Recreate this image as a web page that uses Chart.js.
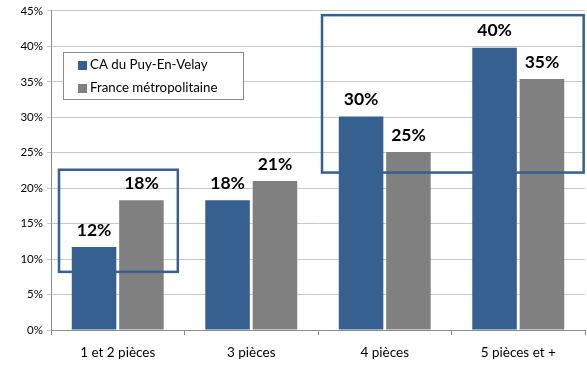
<!DOCTYPE html>
<html>
<head>
<meta charset="utf-8">
<script src="https://cdn.jsdelivr.net/npm/chart.js@4/dist/chart.umd.min.js"></script>
<style>
  html, body { margin: 0; padding: 0; background: #fff; }
  #wrap { width: 587px; height: 365px; }
</style>
</head>
<body>
<div id="wrap"><canvas id="barres" width="587" height="365"></canvas></div>
<script>
// Données
var categories = ["1 et 2 pièces", "3 pièces", "4 pièces", "5 pièces et +"];
var valeursPuy = [11.7, 18.3, 30.1, 39.8];
var valeursFrance = [18.3, 21.0, 25.1, 35.4];
var seriesNoms = ["CA du Puy-En-Velay", "France métropolitaine"];
var ticksY = [0, 5, 10, 15, 20, 25, 30, 35, 40, 45];

var bleu = "#36608F";
var gris = "#808080";

// Cadres de mise en évidence (index de catégorie et valeur en %)
var cadres = [
    { x1: -0.44, x2: 0.45, y1: 8.2, y2: 22.6 },
    { x1: 1.53, x2: 3.49, y1: 22.2, y2: 44.4 }
];

// Étiquettes de valeur au-dessus des barres
var pluginEtiquettes = {
    id: "etiquettes",
    afterDatasetsDraw: function (chart) {
        var ctx = chart.ctx;
        ctx.save();
        ctx.font = "bold 17.5px Lato";
        ctx.fillStyle = "#000";
        ctx.textAlign = "center";
        ctx.textBaseline = "middle";
        chart.data.datasets.forEach(function (ds, i) {
            chart.getDatasetMeta(i).data.forEach(function (bar, j) {
                ctx.fillText(Math.round(ds.data[j]) + "%", bar.x, bar.y - 17);
            });
        });
        ctx.restore();
    }
};

// Cadres bleus et légende dans la zone du graphique
var pluginCadres = {
    id: "cadres",
    afterDraw: function (chart) {
        var ctx = chart.ctx;
        var sx = chart.scales.x, sy = chart.scales.y;
        var pas = sx.getPixelForValue(1) - sx.getPixelForValue(0);
        ctx.save();
        ctx.strokeStyle = bleu;
        ctx.lineWidth = 2.5;
        cadres.forEach(function (c) {
            var x1 = sx.getPixelForValue(0) + c.x1 * pas;
            var x2 = sx.getPixelForValue(0) + c.x2 * pas;
            var y1 = sy.getPixelForValue(c.y2);
            var y2 = sy.getPixelForValue(c.y1);
            ctx.strokeRect(x1, y1, x2 - x1, y2 - y1);
        });

        // légende
        var lx = 63, ly = 52, lw = 180, lh = 47;
        ctx.fillStyle = "#fff";
        ctx.fillRect(lx, ly, lw, lh);
        ctx.strokeStyle = "#8c8c8c";
        ctx.lineWidth = 1;
        ctx.strokeRect(lx + 0.5, ly + 0.5, lw, lh);
        ctx.font = "13.3px Lato";
        ctx.textBaseline = "middle";
        ctx.textAlign = "left";
        chart.data.datasets.forEach(function (ds, i) {
            var cy = ly + 13 + i * 23;
            ctx.fillStyle = ds.backgroundColor;
            ctx.fillRect(lx + 15, cy - 4, 9, 9);
            ctx.fillStyle = "#000";
            ctx.fillText(ds.label, lx + 27, cy);
        });
        ctx.restore();
    }
};

var datos = {
    labels: categories,
    datasets: [{
        label: seriesNoms[0],
        backgroundColor: bleu,
        data: valeursPuy
    }, {
        label: seriesNoms[1],
        backgroundColor: gris,
        data: valeursFrance
    }]
};

var config = {
    type: "bar",
    data: datos,
    options: {
        responsive: false,
        animation: false,
        layout: { padding: { top: 10, right: 2, left: 0, bottom: 0 } },
        datasets: {
            bar: { categoryPercentage: 0.71, barPercentage: 0.94 }
        },
        plugins: {
            legend: { display: false },
            tooltip: { enabled: false }
        },
        scales: {
            x: {
                afterFit: function (s) { s.height = 35; },
                border: { color: "#8c8c8c", width: 1 },
                grid: { drawOnChartArea: false, drawTicks: true, tickLength: 5, color: "#8c8c8c", offset: true },
                ticks: { color: "#000", font: { family: "Lato", size: 13.5 }, padding: 10 }
            },
            y: {
                min: 0,
                max: 45,
                afterFit: function (s) { s.width = 51; },
                afterBuildTicks: function (s) {
                    s.ticks = ticksY.map(function (v) { return { value: v }; });
                },
                border: { color: "#8c8c8c", width: 1 },
                grid: { color: "#c8c8c8", drawTicks: true, tickLength: 4 },
                ticks: {
                    color: "#000",
                    font: { family: "Lato", size: 11.5 },
                    padding: 4,
                    callback: function (v) { return v + "%"; }
                }
            }
        }
    },
    plugins: [pluginEtiquettes, pluginCadres]
};

new Chart(document.getElementById("barres").getContext("2d"), config);
</script>
</body>
</html>
